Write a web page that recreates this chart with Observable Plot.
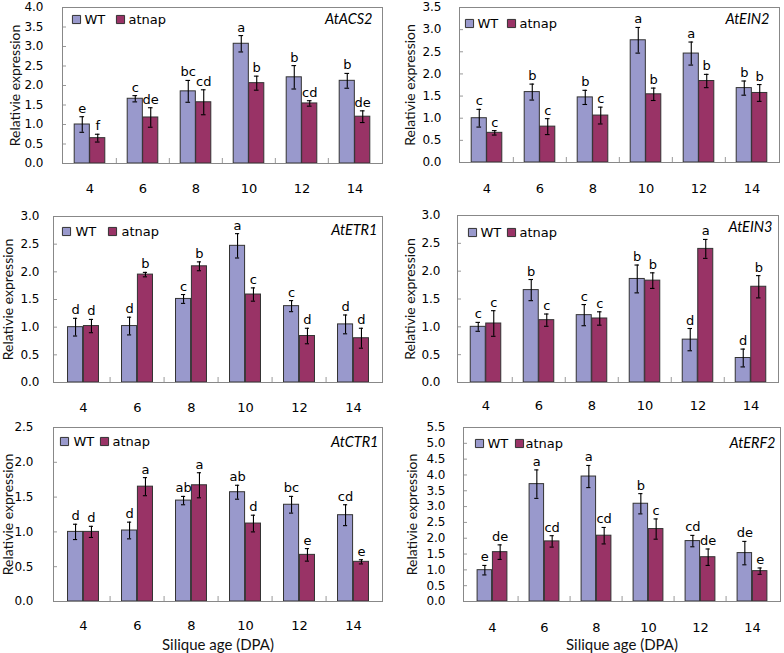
<!DOCTYPE html>
<html>
<head>
<meta charset="utf-8">
<script src="https://cdn.jsdelivr.net/npm/d3@7"></script>
<script src="https://cdn.jsdelivr.net/npm/@observablehq/plot@0.6"></script>
<style>
  html, body { margin: 0; padding: 0; background: #fff; }
  #wrap { position: relative; width: 784px; height: 653px; overflow: hidden; }
  .cell { position: absolute; }
  .cell svg { display: block; }
</style>
</head>
<body>
<div id="wrap"></div>
<script>
// ---------- data ----------
const days = ["4", "6", "8", "10", "12", "14"];
const seriesNames = ["WT", "atnap"];

// AtACS2
const acs2WT = [1.00, 1.66, 1.85, 3.07, 2.21, 2.12];
const acs2WTErr = [0.20, 0.08, 0.28, 0.21, 0.30, 0.19];
const acs2Mut = [0.65, 1.18, 1.57, 2.06, 1.54, 1.20];
const acs2MutErr = [0.10, 0.25, 0.32, 0.18, 0.07, 0.15];
const acs2WTLetters = ["e", "c", "bc", "a", "b", "b"];
const acs2MutLetters = ["f", "de", "cd", "b", "cd", "de"];
const acs2Ticks = [0, 0.5, 1, 1.5, 2, 2.5, 3, 3.5, 4];

// AtEIN2
const ein2WT = [1.00, 1.59, 1.47, 2.76, 2.46, 1.68];
const ein2WTErr = [0.20, 0.18, 0.16, 0.29, 0.26, 0.16];
const ein2Mut = [0.67, 0.81, 1.06, 1.54, 1.84, 1.57];
const ein2MutErr = [0.05, 0.18, 0.19, 0.14, 0.15, 0.19];
const ein2WTLetters = ["c", "b", "b", "a", "a", "b"];
const ein2MutLetters = ["c", "c", "c", "b", "b", "b"];
const ein2Ticks = [0, 0.5, 1, 1.5, 2, 2.5, 3, 3.5];

// AtETR1
const etr1WT = [1.00, 1.02, 1.51, 2.47, 1.38, 1.05];
const etr1WTErr = [0.16, 0.16, 0.08, 0.22, 0.10, 0.17];
const etr1Mut = [1.02, 1.95, 2.10, 1.59, 0.84, 0.80];
const etr1MutErr = [0.12, 0.04, 0.08, 0.12, 0.14, 0.18];
const etr1WTLetters = ["d", "d", "c", "a", "c", "d"];
const etr1MutLetters = ["d", "b", "b", "c", "d", "d"];
const etr1Ticks = [0, 0.5, 1, 1.5, 2, 2.5, 3];

// AtEIN3
const ein3WT = [1.00, 1.66, 1.21, 1.86, 0.77, 0.44];
const ein3WTErr = [0.08, 0.19, 0.19, 0.25, 0.20, 0.16];
const ein3Mut = [1.06, 1.12, 1.15, 1.83, 2.40, 1.72];
const ein3MutErr = [0.23, 0.11, 0.12, 0.14, 0.17, 0.20];
const ein3WTLetters = ["c", "b", "c", "b", "d", "d"];
const ein3MutLetters = ["c", "c", "c", "b", "a", "b"];
const ein3Ticks = [0, 0.5, 1, 1.5, 2, 2.5, 3];

// AtCTR1
const ctr1WT = [1.00, 1.02, 1.45, 1.57, 1.39, 1.24];
const ctr1WTErr = [0.11, 0.12, 0.06, 0.10, 0.12, 0.15];
const ctr1Mut = [1.00, 1.65, 1.67, 1.12, 0.67, 0.57];
const ctr1MutErr = [0.08, 0.13, 0.18, 0.12, 0.09, 0.03];
const ctr1WTLetters = ["d", "d", "ab", "ab", "bc", "cd"];
const ctr1MutLetters = ["d", "a", "a", "d", "e", "e"];
const ctr1Ticks = [0, 0.5, 1, 1.5, 2, 2.5];

// AtERF2
const erf2WT = [0.99, 3.71, 3.95, 3.09, 1.91, 1.53];
const erf2WTErr = [0.15, 0.45, 0.35, 0.32, 0.18, 0.37];
const erf2Mut = [1.56, 1.90, 2.08, 2.29, 1.40, 0.96];
const erf2MutErr = [0.23, 0.18, 0.26, 0.32, 0.26, 0.10];
const erf2WTLetters = ["e", "a", "a", "b", "cd", "de"];
const erf2MutLetters = ["de", "cd", "cd", "c", "de", "e"];
const erf2Ticks = [0, 0.5, 1, 1.5, 2, 2.5, 3, 3.5, 4, 4.5, 5, 5.5];

const yTitle = "Relativie expression";
const xTitle = "Silique age (DPA)";

// ---------- style / layout ----------
const WT_COLOR = "#9999cc";
const MUT_COLOR = "#993366";
const TICK_FONT = "DejaVu Sans";
const LABEL_FONT = "Lato";

const panels = [
  {gene: "AtACS2", wt: acs2WT, wtErr: acs2WTErr, mut: acs2Mut, mutErr: acs2MutErr, wtL: acs2WTLetters, mutL: acs2MutLetters, ticks: acs2Ticks,
   left: 0, top: 0, width: 392, height: 200, ml: 62, mr: 10, mt: 7, mb: 37, padY: 19, padX: 20, ylab: 47,
   leg: {s1: 14, t1: 22, s2: 58, t2: 66, dy: 12}, gl: {dx: -10, dy: 12}, xt: false},
  {gene: "AtEIN2", wt: ein2WT, wtErr: ein2WTErr, mut: ein2Mut, mutErr: ein2MutErr, wtL: ein2WTLetters, mutL: ein2MutLetters, ticks: ein2Ticks,
   left: 392, top: 0, width: 392, height: 200, ml: 67, mr: 5, mt: 7, mb: 38, padY: 18, padX: 21, ylab: 49,
   leg: {s1: 10, t1: 18, s2: 52, t2: 60, dy: 16}, gl: {dx: -10, dy: 12}, xt: false},
  {gene: "AtETR1", wt: etr1WT, wtErr: etr1WTErr, mut: etr1Mut, mutErr: etr1MutErr, wtL: etr1WTLetters, mutL: etr1MutLetters, ticks: etr1Ticks,
   left: 0, top: 200, width: 392, height: 215, ml: 53, mr: 10, mt: 16, mb: 33, padY: 14, padX: 20, ylab: 45,
   leg: {s1: 13, t1: 22, s2: 59, t2: 68, dy: 15}, gl: {dx: -5, dy: 14}, xt: false},
  {gene: "AtEIN3", wt: ein3WT, wtErr: ein3WTErr, mut: ein3Mut, mutErr: ein3MutErr, wtL: ein3WTLetters, mutL: ein3MutLetters, ticks: ein3Ticks,
   left: 392, top: 200, width: 392, height: 215, ml: 65, mr: 6, mt: 15, mb: 33, padY: 17, padX: 18, ylab: 47,
   leg: {s1: 15, t1: 23, s2: 54, t2: 62, dy: 17}, gl: {dx: -6, dy: 12}, xt: false},
  {gene: "AtCTR1", wt: ctr1WT, wtErr: ctr1WTErr, mut: ctr1Mut, mutErr: ctr1MutErr, wtL: ctr1WTLetters, mutL: ctr1MutLetters, ticks: ctr1Ticks,
   left: 0, top: 415, width: 392, height: 238, ml: 53, mr: 10, mt: 12, mb: 52, padY: 20, padX: 19, ylab: 45,
   leg: {s1: 11, t1: 20, s2: 51, t2: 59, dy: 14}, gl: {dx: -4, dy: 15}, xt: true},
  {gene: "AtERF2", wt: erf2WT, wtErr: erf2WTErr, mut: erf2Mut, mutErr: erf2MutErr, wtL: erf2WTLetters, mutL: erf2MutLetters, ticks: erf2Ticks,
   left: 392, top: 415, width: 392, height: 238, ml: 71, mr: 4, mt: 12, mb: 52, padY: 18, padX: 21, ylab: 51,
   leg: {s1: 16, t1: 24, s2: 56, t2: 62, dy: 16}, gl: {dx: -5, dy: 16}, xt: true}
];

function makePanel(p) {
  const n = days.length;
  const innerW = p.width - p.ml - p.mr;
  const innerH = p.height - p.mt - p.mb;
  const bw = innerW / n;
  const half = bw / 2;
  const barW = 0.29 * bw;
  const cap = 2.5;
  const rows = days.map((d, i) => ({
    day: d,
    wt: p.wt[i], wtLo: p.wt[i] - p.wtErr[i], wtHi: p.wt[i] + p.wtErr[i], wtL: p.wtL[i],
    mut: p.mut[i], mutLo: p.mut[i] - p.mutErr[i], mutHi: p.mut[i] + p.mutErr[i], mutL: p.mutL[i]
  }));
  const ymax = p.ticks[p.ticks.length - 1];
  const wtOff = -barW / 2, mutOff = barW / 2;
  const capOpts = (off) => ({insetLeft: half + off - cap, insetRight: half - off - cap, stroke: "#000", strokeWidth: 1.1});
  const marks = [
    Plot.barY(rows, {x: "day", y: "wt", fill: WT_COLOR, stroke: "#333", strokeWidth: 1, insetLeft: half - barW, insetRight: half}),
    Plot.barY(rows, {x: "day", y: "mut", fill: MUT_COLOR, stroke: "#333", strokeWidth: 1, insetLeft: half, insetRight: half - barW}),
    Plot.ruleX(rows, {x: "day", y1: "wtLo", y2: "wtHi", dx: wtOff, stroke: "#000", strokeWidth: 1.1}),
    Plot.ruleX(rows, {x: "day", y1: "mutLo", y2: "mutHi", dx: mutOff, stroke: "#000", strokeWidth: 1.1}),
    Plot.tickY(rows, {x: "day", y: "wtHi", ...capOpts(wtOff)}),
    Plot.tickY(rows, {x: "day", y: "wtLo", ...capOpts(wtOff)}),
    Plot.tickY(rows, {x: "day", y: "mutHi", ...capOpts(mutOff)}),
    Plot.tickY(rows, {x: "day", y: "mutLo", ...capOpts(mutOff)}),
    Plot.text(rows, {x: "day", y: "wtHi", text: "wtL", dx: wtOff, dy: -4, lineAnchor: "bottom", fontSize: 13, fontFamily: TICK_FONT, fill: "#000"}),
    Plot.text(rows, {x: "day", y: "mutHi", text: "mutL", dx: mutOff, dy: -4, lineAnchor: "bottom", fontSize: 13, fontFamily: TICK_FONT, fill: "#000"}),
    // inward y ticks
    Plot.ruleY(p.ticks, {y: d => d, insetRight: innerW - 4, stroke: "#999"}),
    // category boundary ticks
    Plot.ruleX(days.slice(1), {x: d => d, dx: -half, insetTop: innerH - 5, stroke: "#999"}),
    Plot.frame({stroke: "#888", strokeWidth: 1}),
    // legend
    Plot.dot([seriesNames[0]], {frameAnchor: "top-left", dx: p.leg.s1, dy: p.leg.dy, symbol: "square", r: 4.6, fill: WT_COLOR, stroke: "#333", strokeWidth: 1}),
    Plot.text([seriesNames[0]], {frameAnchor: "top-left", text: d => d, dx: p.leg.t1, dy: p.leg.dy, textAnchor: "start", lineAnchor: "middle", fontSize: 13, fontFamily: TICK_FONT, fill: "#000"}),
    Plot.dot([seriesNames[1]], {frameAnchor: "top-left", dx: p.leg.s2, dy: p.leg.dy, symbol: "square", r: 4.6, fill: MUT_COLOR, stroke: "#333", strokeWidth: 1}),
    Plot.text([seriesNames[1]], {frameAnchor: "top-left", text: d => d, dx: p.leg.t2, dy: p.leg.dy, textAnchor: "start", lineAnchor: "middle", fontSize: 13, fontFamily: TICK_FONT, fill: "#000"}),
    // gene label
    Plot.text([p.gene], {frameAnchor: "top-right", text: d => d, dx: p.gl.dx, dy: p.gl.dy, textAnchor: "end", lineAnchor: "middle", fontSize: 14.5, fontStyle: "italic", fontFamily: LABEL_FONT, fill: "#000"}),
    // y title
    Plot.text([yTitle], {frameAnchor: "left", text: d => d, rotate: -90, dx: -p.ylab, textAnchor: "middle", lineAnchor: "middle", fontSize: 14, fontFamily: LABEL_FONT, fill: "#111"})
  ];
  if (p.xt) {
    marks.push(Plot.text([xTitle], {frameAnchor: "bottom", text: d => d, dy: 44, textAnchor: "middle", lineAnchor: "middle", fontSize: 15, fontFamily: LABEL_FONT, fill: "#111"}));
  }
  return Plot.plot({
    width: p.width,
    height: p.height,
    marginLeft: p.ml,
    marginRight: p.mr,
    marginTop: p.mt,
    marginBottom: p.mb,
    style: {fontFamily: TICK_FONT, fontSize: "12px", background: "transparent", color: "#000", overflow: "visible"},
    x: {domain: days, padding: 0, tickSize: 0, tickPadding: p.padX, label: null},
    y: {domain: [0, ymax], ticks: p.ticks, tickFormat: d => d.toFixed(1), tickSize: 0, tickPadding: p.padY, label: null},
    marks
  });
}

const wrap = document.getElementById("wrap");
for (const p of panels) {
  const cell = document.createElement("div");
  cell.className = "cell";
  cell.style.left = p.left + "px";
  cell.style.top = p.top + "px";
  cell.appendChild(makePanel(p));
  wrap.appendChild(cell);
}
// x tick label size a touch larger
document.querySelectorAll('g[aria-label="x-axis tick label"]').forEach(g => g.setAttribute("font-size", "13"));
</script>
</body>
</html>
